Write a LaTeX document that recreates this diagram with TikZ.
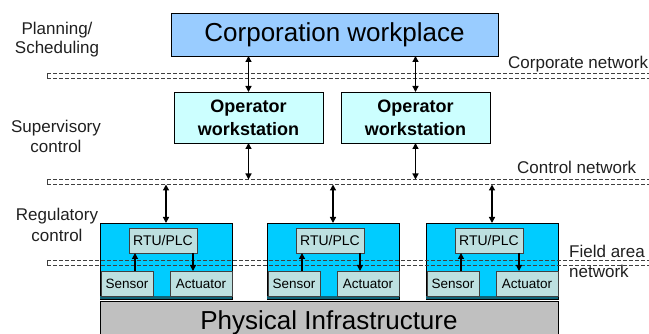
\documentclass[tikz,border=0pt]{standalone}
\usepackage{fontspec}
\setmainfont{Liberation Sans}
\usetikzlibrary{arrows.meta,calc}
\definecolor{corpfill}{HTML}{99CCFF}
\definecolor{wsfill}{HTML}{CCFFFF}
\definecolor{grpfill}{HTML}{00CCFF}
\definecolor{devfill}{HTML}{BDE0E0}
\definecolor{physfill}{HTML}{C0C0C0}
\definecolor{stripc}{HTML}{0E6478}
\definecolor{netc}{HTML}{404040}
\definecolor{txtc}{HTML}{202020}
\begin{document}
\begin{tikzpicture}[x=1pt,y=-1pt,
  box/.style={draw=black, line width=0.8pt, inner sep=0pt, outer sep=0pt},
  dev/.style={box, draw=netc, fill=devfill, font=\fontsize{13.5}{16}\selectfont, minimum height=25pt, anchor=north west},
  net/.style={draw=netc, line width=0.9pt, dash pattern=on 4pt off 2pt},
  netcap/.style={draw=netc, line width=0.9pt},
  link/.style={draw=black, line width=1.3pt, {Triangle[length=6pt,width=6pt]}-{Triangle[length=6pt,width=6pt]}},
  onelink/.style={draw=black, line width=1.2pt, -{Triangle[length=6pt,width=6pt]}},
  lbl/.style={font=\fontsize{17}{20}\selectfont, text=txtc, inner sep=0pt, align=center, anchor=north},
  netlbl/.style={font=\fontsize{17}{19.5}\selectfont, text=txtc, inner sep=0pt},
]
\useasboundingbox (0,0) rectangle (649,334);
\clip (0,0) rectangle (649,334);

% network anchor coordinates
\coordinate (corpTop) at (47,73.5);
\coordinate (corpBot) at (47,78.5);
\coordinate (ctrlTop) at (47,179.5);
\coordinate (ctrlBot) at (47,184.5);
\coordinate (fldTop) at (47,260.5);
\coordinate (fldBot) at (47,265.5);
\coordinate (rightEdge) at (652,0);

% top boxes
\node[box, fill=corpfill, minimum width=327pt, minimum height=43pt,
      font=\fontsize{26}{30}\selectfont] (corp) at (334.5,34.5) {Corporation workplace};
\node[box, fill=wsfill, minimum width=149pt, minimum height=51pt, align=center,
      font=\bfseries\fontsize{18}{23}\selectfont] (ws1) at (248.5,117.5) {Operator\\workstation};
\node[box, fill=wsfill, minimum width=149pt, minimum height=51pt, align=center,
      font=\bfseries\fontsize{18}{23}\selectfont] (ws2) at (415.5,117.5) {Operator\\workstation};

% field groups (outer boxes)
\foreach \i/\x in {1/100,2/267,3/426}{
  \node[box, fill=grpfill, minimum width=132pt, minimum height=76pt, anchor=north west] (g\i) at (\x,223) {};
  \fill[stripc] ($(g\i.south west)+(0.4,-3)$) rectangle ($(g\i.south east)+(-0.4,0)$);
}

% networks
\draw[net] (corpTop) -- (corpTop -| rightEdge);
\draw[net] (corpBot) -- (corpBot -| rightEdge);
\draw[netcap] (corpTop) -- (corpBot);
\draw[net] (ctrlTop) -- (ctrlTop -| rightEdge);
\draw[net] (ctrlBot) -- (ctrlBot -| rightEdge);
\draw[netcap] (ctrlTop) -- (ctrlBot);
\draw[net] (fldTop) -- (fldTop -| rightEdge);
\draw[net] (fldBot) -- (fldBot -| rightEdge);
\draw[netcap] (fldTop) -- (fldBot);

% devices
\foreach \i/\x in {1/100,2/267,3/426}{
  \node[dev, font=\fontsize{14}{16}\selectfont, minimum width=68pt] (r\i) at (\x+29,228) {RTU/PLC};
  \node[dev, minimum width=52pt] (s\i) at (\x+1,271) {Sensor};
  \node[dev, minimum width=62pt] (a\i) at (\x+70,271) {Actuator};
  \draw[onelink] ([xshift=8pt]s\i.north) -- ([xshift=8pt]s\i.north |- r\i.south);
  \draw[onelink] ([xshift=-8pt]a\i.north |- r\i.south) -- ([xshift=-8pt]a\i.north);
  \draw[link] (g\i.north |- ctrlBot) -- (g\i.north);
}

% physical infrastructure
\node[box, fill=physfill, minimum width=458pt, minimum height=44pt, anchor=north west,
      font=\fontsize{26}{30}\selectfont] (phys) at (100,301) {Physical Infrastructure};

% links
\draw[link] (corp.south -| ws1.north) -- (ws1.north);
\draw[link] (corp.south -| ws2.north) -- (ws2.north);
\draw[link] (ws1.south) -- (ws1.south |- ctrlTop);
\draw[link] (ws2.south) -- (ws2.south |- ctrlTop);

% layer labels
\node[lbl, font=\fontsize{17}{19.5}\selectfont] (plan) at (57,21.7) {Planning/\\Scheduling};
\node[lbl] (sup) at (56,119.6) {Supervisory\\control};
\node[lbl, font=\fontsize{17}{21.5}\selectfont] (reg) at (57,207.6) {Regulatory\\control};

% network labels
\node[netlbl, anchor=base west] (corpnet) at (508,68.3) {Corporate network};
\node[netlbl, anchor=base west] (ctrlnet) at (517,173.3) {Control network};
\node[netlbl, anchor=north west, align=left] (fldnet) at (569,245.3) {Field area\\network};
\end{tikzpicture}
\end{document}
